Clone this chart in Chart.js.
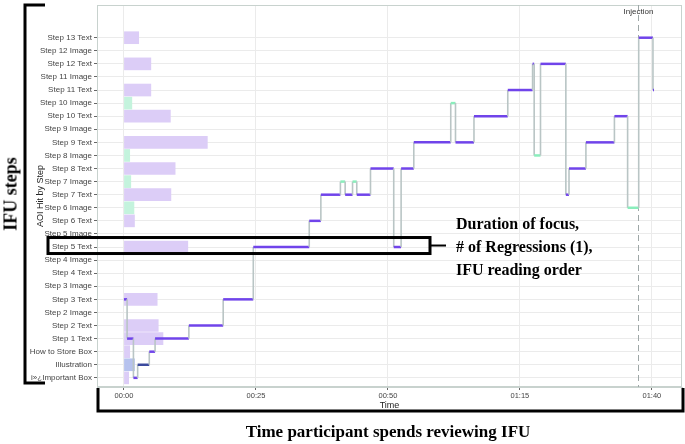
<!DOCTYPE html>
<html lang="en">
<head>
<meta charset="UTF-8">
<title>IFU reading order - AOI hits by step</title>
<script src="https://cdn.jsdelivr.net/npm/chart.js"></script>
<style>
    body { margin: 0; background: #fff; }
    .wrap { position: relative; width: 685px; height: 444px; overflow: hidden; }
    #scanpath { position: absolute; left: 0; top: 0; }
    .note {
        position: absolute;
        font-family: "Liberation Serif", "DejaVu Serif", serif;
        font-weight: bold;
        color: #000;
        white-space: nowrap;
    }
    .ifu-steps { left: 11px; top: 194px; font-size: 18px; transform: translate(-50%, -50%) rotate(-90deg); }
    .time-label { left: 388px; top: 432px; font-size: 17px; transform: translate(-50%, -50%); }
    .callout { left: 456px; top: 212px; font-size: 16px; line-height: 23px; }
</style>
</head>
<body>
<div class="wrap">
    <canvas id="scanpath" width="685" height="444"></canvas>
    <div class="note ifu-steps">IFU steps</div>
    <div class="note callout">Duration of focus,<br># of Regressions (1),<br>IFU reading order</div>
    <div class="note time-label">Time participant spends reviewing IFU</div>
</div>
<script>
    // AOI categories, bottom to top
    const aoiNames = [
        'i»¿Important Box', 'Illustration', 'How to Store Box',
        'Step 1 Text', 'Step 2 Text', 'Step 2 Image',
        'Step 3 Text', 'Step 3 Image', 'Step 4 Text', 'Step 4 Image',
        'Step 5 Text', 'Step 5 Image', 'Step 6 Text', 'Step 6 Image',
        'Step 7 Text', 'Step 7 Image', 'Step 8 Text', 'Step 8 Image',
        'Step 9 Text', 'Step 9 Image', 'Step 10 Text', 'Step 10 Image',
        'Step 11 Text', 'Step 11 Image', 'Step 12 Text', 'Step 12 Image',
        'Step 13 Text'
    ];

    // total dwell time per AOI (seconds)
    const dwellSeconds = [
        0.9, 2.0, 1.1,
        7.4, 6.5, 0,
        6.3, 0, 0, 0,
        12.1, 0, 2.0, 1.9,
        8.9, 1.3, 9.7, 1.1,
        15.8, 0, 8.8, 1.5,
        5.1, 0, 5.1, 0,
        2.8
    ];

    // scanpath: AOI visited and the times where gaze switches (seconds)
    const pathAoi = [
        'Step 3 Text', 'Step 1 Text', 'i»¿Important Box', 'Illustration', 'How to Store Box',
        'Step 1 Text', 'Step 2 Text', 'Step 3 Text', 'Step 5 Text', 'Step 6 Text',
        'Step 7 Text', 'Step 7 Image', 'Step 7 Text', 'Step 7 Image', 'Step 7 Text',
        'Step 8 Text', 'Step 5 Text', 'Step 8 Text', 'Step 9 Text', 'Step 10 Image',
        'Step 9 Text', 'Step 10 Text', 'Step 11 Text', 'Step 12 Text', 'Step 8 Image',
        'Step 12 Text', 'Step 7 Text', 'Step 8 Text', 'Step 9 Text', 'Step 10 Text',
        'Step 6 Image', 'Step 13 Text', 'Step 11 Text'
    ];
    const switchTimes = [
        0, 0.6, 1.8, 2.6, 4.8, 5.9, 12.3, 18.8, 24.5, 35.1, 37.3,
        41.0, 41.9, 43.3, 44.1, 46.7, 51.1, 52.5, 54.9, 61.9, 62.8,
        66.3, 72.7, 77.4, 77.7, 78.9, 83.7, 84.3, 87.5, 92.9, 95.4,
        97.5, 100.2, 100.4
    ];

    const injectionTime = 97.4;
    const xTickValues = [0, 25, 50, 75, 100];
    const xTickLabels = ['00:00', '00:25', '00:50', '01:15', '01:40'];

    function aoiKind(name) {
        if (name.includes('Image')) return 'image';
        if (name === 'Illustration') return 'illustration';
        return 'text';
    }
    const barColors = { text: '#dccdf7', image: '#c4f3dd', illustration: '#b6c2ee' };
    const lineColors = { text: '#7044ea', image: '#8aeebc', illustration: '#3c4b9e' };

    const barData = [];
    dwellSeconds.forEach((d, i) => { if (d > 0) barData.push({ x: d, y: i }); });

    const pathPoints = [];
    pathAoi.forEach((name, i) => {
        const y = aoiNames.indexOf(name);
        pathPoints.push({ x: switchTimes[i], y: y });
        pathPoints.push({ x: switchTimes[i + 1], y: y });
    });

    const overlay = {
        id: 'overlay',
        beforeDatasetsDraw(chart) {
            const { ctx, chartArea: a, scales: { x } } = chart;
            ctx.save();
            ctx.strokeStyle = '#c8d2ce';
            ctx.lineWidth = 1;
            ctx.strokeRect(a.left + 0.5, a.top + 0.5, a.right - a.left - 1, a.bottom - a.top - 1);
            // injection marker
            const ix = Math.round(x.getPixelForValue(injectionTime)) + 0.5;
            ctx.setLineDash([6, 4]);
            ctx.strokeStyle = '#9ea7a7';
            ctx.beginPath();
            ctx.moveTo(ix, a.top);
            ctx.lineTo(ix, a.bottom);
            ctx.stroke();
            ctx.setLineDash([]);
            ctx.fillStyle = '#333';
            ctx.font = '8px "Liberation Sans"';
            ctx.textAlign = 'center';
            ctx.textBaseline = 'middle';
            ctx.fillText('Injection', ix, a.top + 7);
            ctx.restore();
        },
        afterDraw(chart) {
            const { ctx, chartArea: a, scales: { y } } = chart;
            ctx.save();
            ctx.strokeStyle = '#000';
            ctx.lineWidth = 3;
            // left bracket
            ctx.beginPath();
            ctx.moveTo(45, a.top);
            ctx.lineTo(25, a.top);
            ctx.lineTo(25, a.bottom - 4);
            ctx.lineTo(45, a.bottom - 4);
            ctx.stroke();
            // bottom bracket
            ctx.beginPath();
            ctx.moveTo(98, a.bottom + 1);
            ctx.lineTo(98, 411);
            ctx.lineTo(683, 411);
            ctx.lineTo(683, a.bottom + 1);
            ctx.stroke();
            // callout box around Step 5 Text
            const y5 = y.getPixelForValue(aoiNames.indexOf('Step 5 Text'));
            ctx.strokeRect(48, y5 - 9.5, 382, 16);
            ctx.lineWidth = 2;
            ctx.beginPath();
            ctx.moveTo(431, y5 - 1.5);
            ctx.lineTo(446, y5 - 1.5);
            ctx.stroke();
            ctx.restore();
        }
    };

    const tickFont = { family: '"Liberation Sans", Arial, sans-serif', size: 8 };

    new Chart(document.getElementById('scanpath'), {
        type: 'line',
        data: {
            datasets: [
                {
                    type: 'bar',
                    indexAxis: 'y',
                    data: barData,
                    backgroundColor: barData.map(p => barColors[aoiKind(aoiNames[p.y])]),
                    borderWidth: 0,
                    barThickness: 12,
                    order: 2
                },
                {
                    type: 'line',
                    data: pathPoints,
                    pointRadius: 0,
                    tension: 0,
                    fill: false,
                    borderColor: '#7044ea',
                    segment: {
                        borderColor: c => c.p0.parsed.y === c.p1.parsed.y
                            ? lineColors[aoiKind(aoiNames[c.p0.parsed.y])] : '#b9c5c5',
                        borderWidth: c => c.p0.parsed.y === c.p1.parsed.y ? 2.5 : 1.6
                    },
                    order: 1
                }
            ]
        },
        options: {
            responsive: false,
            animation: false,
            devicePixelRatio: 1,
            layout: { padding: { left: 0, top: 5, right: 3, bottom: 33 } },
            plugins: { legend: { display: false }, tooltip: { enabled: false } },
            scales: {
                x: {
                    type: 'linear',
                    min: -5.1,
                    max: 105.7,
                    offset: false,
                    afterBuildTicks: s => { s.ticks = xTickValues.map(v => ({ value: v })); },
                    afterFit: s => { s.height = 24; },
                    ticks: {
                        callback: v => xTickLabels[xTickValues.indexOf(v)],
                        font: { family: '"Liberation Sans", Arial, sans-serif', size: 7.5 },
                        color: '#444',
                        padding: 1,
                        maxRotation: 0
                    },
                    grid: { color: '#ebebeb', tickColor: '#666', tickLength: 3, offset: false },
                    border: { color: '#c8d2ce' },
                    title: {
                        display: true,
                        text: 'Time',
                        font: { family: '"Liberation Sans", Arial, sans-serif', size: 9 },
                        color: '#222',
                        padding: { top: 0, bottom: 0 }
                    }
                },
                y: {
                    type: 'linear',
                    min: -0.7,
                    max: 28.5,
                    offset: false,
                    afterBuildTicks: s => { s.ticks = aoiNames.map((_, i) => ({ value: i })); },
                    afterFit: s => { s.width = 97; s.paddingTop = 0; s.paddingBottom = 0; },
                    ticks: {
                        callback: v => aoiNames[v],
                        autoSkip: false,
                        font: tickFont,
                        color: '#444',
                        padding: 2
                    },
                    grid: { color: '#ebebeb', tickColor: '#666', tickLength: 3, offset: false },
                    border: { color: '#c8d2ce' },
                    title: {
                        display: true,
                        text: 'AOI Hit by Step',
                        font: { family: '"Liberation Sans", Arial, sans-serif', size: 9 },
                        color: '#222',
                        padding: { top: 35, bottom: 0 }
                    }
                }
            }
        },
        plugins: [overlay]
    });
</script>
</body>
</html>
